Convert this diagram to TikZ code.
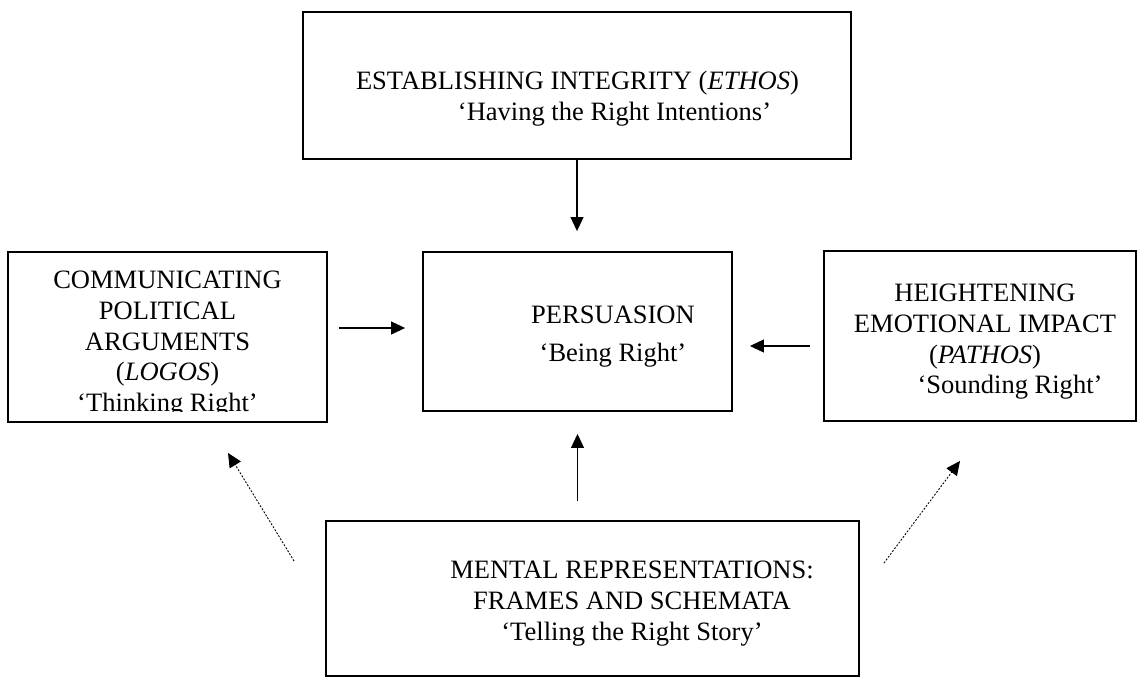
\documentclass[tikz,border=0pt]{standalone}
\usepackage{fontspec}
\setmainfont{Liberation Serif}
\usetikzlibrary{positioning, arrows.meta}

\tikzset{
  frame/.style={draw, line width=1.1pt, inner sep=0pt},
  txt/.style={align=center, anchor=north, inner sep=0pt, font=\fontsize{15.1pt}{17.4pt}\selectfont},
  link/.style={-{Triangle[length=0.28cm, width=0.26cm]}, line width=0.6pt},
  hint/.style={link, line width=0.5pt, dash pattern=on 1.1pt off 0.9pt}
}

\begin{document}
\begin{tikzpicture}[x=0.02cm, y=-0.02cm]
\useasboundingbox (0,0) rectangle (1138,677);

% Boxes
\node[frame, minimum width=10.96cm, minimum height=2.94cm] (ethos) at (577,85.5) {};
\node[frame, minimum width=6.18cm, minimum height=3.18cm] (persuasion) at (577.5,331.5) {};
\node[frame, minimum width=6.38cm, minimum height=3.4cm] (logos) at (167.5,337) {};
\node[frame, minimum width=6.24cm, minimum height=3.4cm] (pathos) at (980,336) {};
\node[frame, minimum width=10.66cm, minimum height=3.1cm] (frames) at (592.5,598.5) {};

% Texts
\node[txt] (ethos-txt) at (577.5,71) {ESTABLISHING INTEGRITY (\textit{ETHOS})\\
  \hspace*{1.48cm}`Having the Right Intentions'};
\node[txt] (persuasion-txt) at (613,306) {PERSUASION\\[4.2pt]`Being Right'};
\begin{scope}
\clip (logos.north west) rectangle ([yshift=0.22cm]logos.south east);
\node[txt] (logos-txt) at (167.5,271) {COMMUNICATING\\POLITICAL\\ARGUMENTS\\(\textit{LOGOS})\\`Thinking Right'};
\end{scope}
\node[txt] (pathos-txt) at (985,284) {HEIGHTENING\\EMOTIONAL IMPACT\\(\textit{PATHOS})\\
  \hspace*{1cm}`Sounding Right'};
\node[txt] (frames-txt) at (632,561) {MENTAL REPRESENTATIONS:\\FRAMES AND SCHEMATA\\`Telling the Right Story'};

% Arrows into persuasion
\draw[link, shorten >=0.4cm] (ethos.south) -- (ethos.south |- persuasion.north);
\draw[link, shorten <=0.38cm, shorten >=0.44cm] (frames.north -| persuasion.south) -- (persuasion.south);
\draw[link, shorten <=0.22cm, shorten >=0.34cm] ([yshift=0.07cm]persuasion.west -| logos.east) -- ([yshift=0.07cm]persuasion.west);
\draw[link, shorten <=0.26cm, shorten >=0.34cm] ([yshift=-0.2cm]pathos.west) -- ([yshift=-0.2cm]pathos.west -| persuasion.east);

% Dotted hints from frames
\draw[hint] ([shift={(-31,41)}]frames.north west) -- ([shift={(60.5,30)}]logos.south);
\draw[hint] ([shift={(24,43)}]frames.north east) -- ([shift={(-20,39)}]pathos.south);
\end{tikzpicture}
\end{document}
